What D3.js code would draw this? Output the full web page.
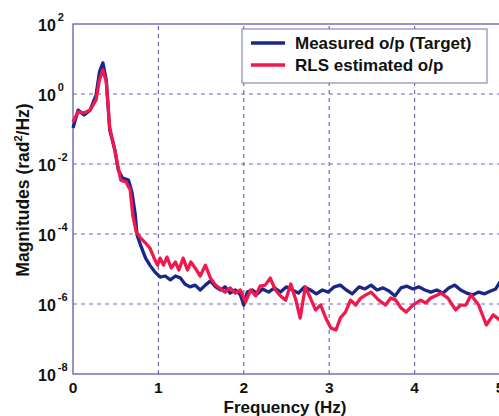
<!DOCTYPE html>
<html>
<head>
<meta charset="utf-8">
<style>
  body { margin: 0; background: #fff; }
  text { font-family: "Liberation Sans", Arial, sans-serif; font-weight: bold; fill: #111; }
</style>
</head>
<body>
<div id="chart"></div>
<script src="https://cdn.jsdelivr.net/npm/d3@7"></script>
<script>
var W = 499, H = 416;
var margin = { top: 24, right: 0, bottom: 42, left: 73 };

// measured output (target), magnitudes stored as log10 exponents
var measFreq = [0.00, 0.06, 0.13, 0.20, 0.27, 0.31, 0.35, 0.39, 0.43, 0.49, 0.53, 0.58, 0.65, 0.69, 0.73, 0.75, 0.79, 0.85, 0.90, 0.96,
  1.02, 1.08, 1.14, 1.20, 1.26, 1.31, 1.37, 1.43, 1.49, 1.55, 1.61, 1.67, 1.73, 1.78, 1.84, 1.90, 1.96, 2.00, 2.04, 2.10,
  2.16, 2.22, 2.29, 2.36, 2.43, 2.50, 2.57, 2.64, 2.71, 2.78, 2.85, 2.92, 2.99, 3.06, 3.13, 3.20, 3.27, 3.35, 3.42, 3.49,
  3.56, 3.63, 3.70, 3.77, 3.84, 3.91, 3.98, 4.05, 4.12, 4.19, 4.26, 4.33, 4.40, 4.47, 4.54, 4.61, 4.68, 4.75, 4.82, 4.89, 4.95, 5.00];
var measLog = [-0.97, -0.46, -0.60, -0.46, -0.03, 0.63, 0.89, 0.40, -1.03, -1.60, -2.17, -2.40, -2.46, -2.80, -3.46, -4.03, -4.31, -4.69, -4.89, -5.09,
  -5.23, -5.20, -5.31, -5.20, -5.26, -5.43, -5.51, -5.46, -5.60, -5.46, -5.34, -5.51, -5.60, -5.51, -5.69, -5.60, -5.74, -6.03, -5.66, -5.60,
  -5.71, -5.57, -5.66, -5.54, -5.66, -5.51, -5.60, -5.69, -5.51, -5.60, -5.71, -5.60, -5.66, -5.51, -5.46, -5.60, -5.71, -5.51, -5.57, -5.46,
  -5.60, -5.54, -5.63, -5.77, -5.54, -5.49, -5.57, -5.51, -5.60, -5.66, -5.60, -5.69, -5.54, -5.46, -5.60, -5.69, -5.74, -5.66, -5.71, -5.63, -5.57, -5.37];

// RLS estimated output
var rlsFreq = [0.00, 0.06, 0.13, 0.20, 0.27, 0.31, 0.35, 0.39, 0.43, 0.49, 0.53, 0.56, 0.62, 0.67, 0.70, 0.74, 0.79, 0.85, 0.90, 0.95,
  0.99, 1.02, 1.06, 1.10, 1.15, 1.20, 1.24, 1.29, 1.34, 1.38, 1.43, 1.49, 1.55, 1.61, 1.67, 1.73, 1.78, 1.84, 1.90, 1.96,
  2.02, 2.08, 2.14, 2.19, 2.25, 2.31, 2.37, 2.43, 2.49, 2.55, 2.61, 2.66, 2.72, 2.78, 2.84, 2.90, 2.96, 3.02, 3.08, 3.13,
  3.19, 3.25, 3.31, 3.37, 3.43, 3.49, 3.58, 3.66, 3.72, 3.78, 3.84, 3.90, 3.98, 4.07, 4.13, 4.19, 4.31, 4.39, 4.48, 4.54,
  4.60, 4.66, 4.75, 4.84, 4.92, 5.00];
var rlsLog = [-0.80, -0.51, -0.54, -0.46, -0.17, 0.40, 0.69, 0.34, -0.97, -1.60, -2.11, -2.46, -2.51, -2.74, -3.46, -3.94, -4.11, -4.26, -4.40, -4.69,
  -4.89, -4.69, -4.89, -4.66, -4.97, -4.80, -5.03, -4.69, -5.03, -4.80, -4.97, -5.20, -4.89, -5.26, -5.46, -5.57, -5.66, -5.54, -5.69, -5.60,
  -5.94, -5.60, -5.77, -5.49, -5.46, -5.26, -5.60, -5.77, -5.89, -5.43, -5.89, -6.40, -5.51, -5.83, -6.17, -6.03, -6.40, -6.69, -6.74, -6.40,
  -6.23, -5.89, -6.03, -5.83, -5.74, -5.66, -5.89, -6.03, -5.83, -5.89, -6.11, -6.23, -6.03, -5.89, -5.97, -5.83, -5.69, -5.83, -6.17, -6.03,
  -6.03, -5.74, -6.03, -6.60, -6.31, -6.46];

var xTicks = [0, 1, 2, 3, 4, 5];
var yTickExp = [2, 0, -2, -4, -6, -8];
var seriesNames = ["Measured o/p (Target)", "RLS estimated o/p"];
var seriesColors = ["#1b2787", "#f0184c"];
var gridColor = "#6b6bbd";

var svg = d3.select("#chart").append("svg").attr("width", W).attr("height", H);

var x = d3.scaleLinear().domain([0, 5]).range([margin.left, W - margin.right + 1]);
var y = d3.scaleLog().domain([1e-8, 1e2]).range([H - margin.bottom, margin.top]);

// grid
svg.append("g").selectAll("line").data(xTicks.slice(1, -1)).enter().append("line")
  .attr("x1", function (d) { return x(d); }).attr("x2", function (d) { return x(d); })
  .attr("y1", y(1e-8)).attr("y2", y(1e2))
  .attr("stroke", gridColor).attr("stroke-width", 1.2).attr("stroke-dasharray", "4,4");
svg.append("g").selectAll("line").data(yTickExp.slice(1, -1)).enter().append("line")
  .attr("x1", x(0)).attr("x2", x(5))
  .attr("y1", function (d) { return y(Math.pow(10, d)); }).attr("y2", function (d) { return y(Math.pow(10, d)); })
  .attr("stroke", gridColor).attr("stroke-width", 1.2).attr("stroke-dasharray", "4,4");

// frame
svg.append("rect").attr("x", x(0)).attr("y", y(1e2))
  .attr("width", x(5) - x(0)).attr("height", y(1e-8) - y(1e2))
  .attr("fill", "none").attr("stroke", "#5d5db0").attr("stroke-width", 1.3);

// lines
var line = d3.line()
  .x(function (d) { return x(d[0]); })
  .y(function (d) { return y(Math.pow(10, d[1])); });

var series = [d3.zip(measFreq, measLog), d3.zip(rlsFreq, rlsLog)];
series.forEach(function (s, i) {
  svg.append("path").datum(s).attr("d", line)
    .attr("fill", "none").attr("stroke", seriesColors[i])
    .attr("stroke-width", 3.3).attr("stroke-linejoin", "round");
});

// y tick labels: 10^n
yTickExp.forEach(function (e) {
  var t = svg.append("text").attr("x", 38).attr("y", y(Math.pow(10, e)) + 7)
    .style("font-size", "16px");
  t.append("tspan").text("10");
  t.append("tspan").text(e).attr("dy", -10).style("font-size", "11px").attr("dx", 2);
});

// x tick labels
svg.append("g").selectAll("text").data(xTicks).enter().append("text")
  .attr("x", function (d) { return x(d); }).attr("y", 393)
  .attr("text-anchor", "middle").style("font-size", "15.5px")
  .text(function (d) { return d; });

// axis titles
svg.append("text").attr("x", 285).attr("y", 413).attr("text-anchor", "middle")
  .style("font-size", "17px").text("Frequency (Hz)");
var yl = svg.append("text").attr("transform", "translate(29,190) rotate(-90)")
  .attr("text-anchor", "middle").style("font-size", "17.5px");
yl.append("tspan").text("Magnitudes (rad");
yl.append("tspan").text("2").attr("dy", -7).style("font-size", "11px");
yl.append("tspan").text("/Hz)").attr("dy", 7);

// legend
var lg = svg.append("g");
lg.append("rect").attr("x", 242).attr("y", 29).attr("width", 245).attr("height", 54)
  .attr("fill", "#fff").attr("stroke", "#8a8ab5").attr("stroke-width", 1.2);
seriesNames.forEach(function (n, i) {
  var cy = 43 + i * 22;
  lg.append("line").attr("x1", 251).attr("x2", 285).attr("y1", cy).attr("y2", cy)
    .attr("stroke", seriesColors[i]).attr("stroke-width", 3.3);
  lg.append("text").attr("x", 295).attr("y", cy + 6).style("font-size", "17px").text(n);
});
</script>
</body>
</html>
